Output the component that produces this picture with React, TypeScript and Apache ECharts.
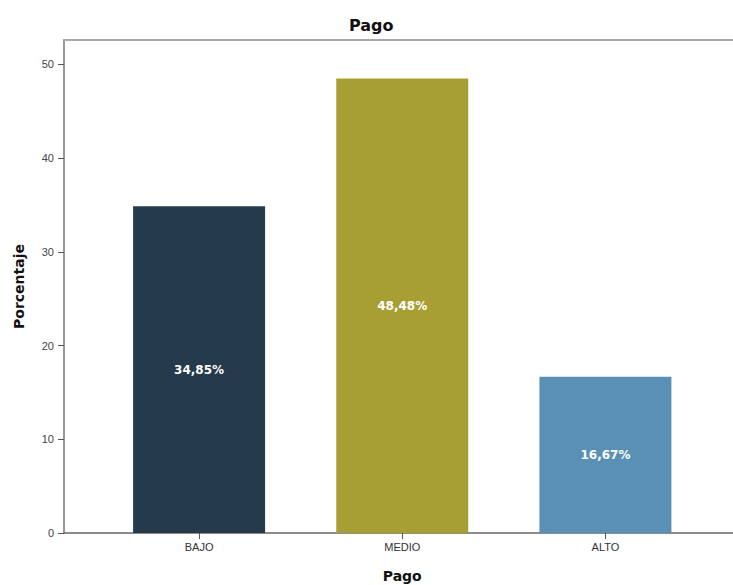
import React, { useEffect, useRef } from "react";
import * as echarts from "echarts";

const categories = ["BAJO", "MEDIO", "ALTO"];
const percentages = [34.85, 48.48, 16.67];
const barColors = ["#253a4a", "#a89f34", "#5a90b4"];
const yTicks = [0, 10, 20, 30, 40, 50];
const yMax = 52.6;

const labelFont = "'Liberation Sans', Arial, sans-serif";
const boldFont = "'DejaVu Sans', sans-serif";

export default function App() {
  const ref = useRef<HTMLDivElement>(null);

  useEffect(() => {
    document.body.style.margin = "0";
    if (!ref.current) return;
    const chart = echarts.init(ref.current, null, { renderer: "svg" });
    const fmt = (v: number) => `${v.toFixed(2).replace(".", ",")}%`;

    chart.setOption({
      animation: false,
      backgroundColor: "#ffffff",
      title: {
        text: "Pago",
        left: 344,
        top: 12,
        textStyle: { fontFamily: boldFont, fontSize: 16, fontWeight: "bold", color: "#111" },
      },
      grid: [
        { left: 64, right: -2, top: 40, bottom: 52, outerBoundsMode: "none" },
        { left: 97.5, width: 609.5, top: 40, bottom: 52, outerBoundsMode: "none" },
      ],
      xAxis: [
        {
          // frame: bottom axis line
          type: "value",
          gridIndex: 0,
          position: "bottom",
          min: 0,
          max: 1,
          axisLine: { show: true, lineStyle: { color: "#666", width: 1.5 } },
          axisTick: { show: false },
          axisLabel: { show: false },
          splitLine: { show: false },
        },
        {
          // frame: top border
          type: "value",
          gridIndex: 0,
          position: "top",
          min: 0,
          max: 1,
          axisLine: { show: true, lineStyle: { color: "#aaa", width: 2 } },
          axisTick: { show: false },
          axisLabel: { show: false },
          splitLine: { show: false },
        },
        {
          type: "category",
          gridIndex: 1,
          data: categories,
          name: "Pago",
          nameLocation: "middle",
          nameGap: 36,
          nameTextStyle: { fontFamily: boldFont, fontSize: 14, fontWeight: "bold", color: "#111" },
          axisLine: { show: false },
          axisTick: { show: true, alignWithLabel: true, length: 6, lineStyle: { color: "#555" } },
          axisLabel: { fontFamily: labelFont, fontSize: 11, color: "#333", margin: 8 },
        },
      ],
      yAxis: [
        {
          type: "value",
          gridIndex: 0,
          min: 0,
          max: yMax,
          interval: 10,
          name: "Porcentaje",
          nameLocation: "middle",
          nameRotate: 90,
          nameGap: 38,
          nameTextStyle: { fontFamily: boldFont, fontSize: 14, fontWeight: "bold", color: "#111" },
          axisLine: { show: true, lineStyle: { color: "#777", width: 1.5 } },
          axisTick: { show: true, length: 6, lineStyle: { color: "#555" }, customValues: yTicks },
          axisLabel: {
            fontFamily: labelFont,
            fontSize: 11,
            color: "#444",
            margin: 10,
            customValues: yTicks,
            formatter: (v: number) => (yTicks.includes(v) ? String(v) : ""),
          },
          splitLine: { show: false },
        },
        {
          type: "value",
          gridIndex: 1,
          min: 0,
          max: yMax,
          show: false,
        },
      ],
      series: [
        {
          type: "bar",
          xAxisIndex: 2,
          yAxisIndex: 1,
          barWidth: 132,
          data: percentages.map((v, i) => ({ value: v, itemStyle: { color: barColors[i] } })),
          label: {
            show: true,
            position: "inside",
            color: "#fff",
            fontFamily: boldFont,
            fontSize: 12,
            fontWeight: "bold",
            formatter: (p: any) => fmt(p.value),
          },
        },
      ],
    });

    return () => chart.dispose();
  }, []);

  return <div ref={ref} style={{ width: 733, height: 585 }} />;
}
